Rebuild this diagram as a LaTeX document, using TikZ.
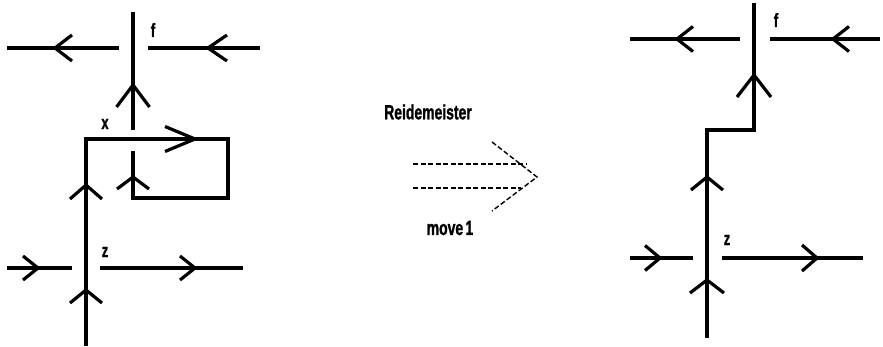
\documentclass[tikz,border=0pt]{standalone}
\usepackage{fontspec}
\usepackage{graphicx}
\newfontfamily\lblfont{Liberation Sans}[BoldFeatures={FakeBold=1.5}]
% narrow bold lettering
\newcommand\narrowtext[1]{\scalebox{0.68}[1]{#1}}
\tikzset{
  strand/.style={line width=3.2pt, line cap=butt, line join=miter},
  dashline/.style={line width=1.4pt, dash pattern=on 5pt off 2.5pt},
  lbl/.style={font=\lblfont\bfseries\fontsize{19}{19}\selectfont, inner sep=0pt},
  biglbl/.style={font=\lblfont\bfseries\fontsize{20.5}{20.5}\selectfont, inner sep=0pt},
  % open chevron pointing along +x, tip at the origin: length/half-width
  pics/chev/.style args={#1/#2}{code={\draw[strand, line join=round] (-#1,#2) -- (0,0) -- (-#1,-#2);}},
}
\begin{document}
\begin{tikzpicture}[x=1pt, y=1pt]
\useasboundingbox (0,0) rectangle (883,346);

% ---------------- left tangle ----------------
\coordinate (Lftop) at (133,334);
\coordinate (Lfbot) at (133,216);
\coordinate (LaW)  at (7,298);   \coordinate (LaE) at (119,298);
\coordinate (LbW)  at (148,298); \coordinate (LbE) at (260,298);
\coordinate (Lbase) at (86,0);
\coordinate (Lcorner) at (86,207);
\coordinate (LboxNE) at (228,207);
\coordinate (LboxSE) at (228,148);
\coordinate (LboxSW) at (133,148);
\coordinate (Linner) at (133,195);
\coordinate (LzaW) at (7,78);    \coordinate (LzaE) at (72,78);
\coordinate (LzbW) at (100,78);  \coordinate (LzbE) at (243,78);

\draw[strand] (Lftop) -- (Lfbot);
\draw[strand] (LaW) -- (LaE);
\draw[strand] (LbW) -- (LbE);
\draw[strand] (Lbase) -- (Lcorner) -- (LboxNE) -- (LboxSE) -- (LboxSW) -- (Linner);
\draw[strand] (LzaW) -- (LzaE);
\draw[strand] (LzbW) -- (LzbE);

\pic[rotate=180] at (55,298) {chev=17/13};
\pic[rotate=180] at (208,298) {chev=19/13};
\pic[rotate=90] at (133,261) {chev=22/16.5};
\pic at (195,207) {chev=30/12.5};
\pic[rotate=90] at (133,169) {chev=12/16};
\pic[rotate=90] at (86,161) {chev=14/16};
\pic[rotate=90] at (86,56) {chev=13/16};
\pic at (38,78) {chev=15/12};
\pic at (195,78) {chev=15/12};

\node[lbl] (Lf) at (153,316) {\narrowtext{f}};
\node[lbl] (Lx) at (105,222) {\narrowtext{x}};
\node[lbl] (Lz) at (105,94) {\narrowtext{z}};

% ---------------- move arrow ----------------
\node[biglbl] (mvname) at (428,234) {\narrowtext{Reidemeister}};
\node[biglbl] (mvnum) at (450,118) {\narrowtext{move\,1}};
\coordinate (DaW) at (413,182); \coordinate (DaE) at (527,182);
\coordinate (DbW) at (413,158); \coordinate (DbE) at (521,158);
\coordinate (HdA) at (492,204); \coordinate (HdT) at (537,169); \coordinate (HdB) at (492,135);
\draw[dashline] (DaW) -- (DaE);
\draw[dashline] (DbW) -- (DbE);
\draw[dashline] (HdA) -- (HdT) -- (HdB);

% ---------------- right tangle ----------------
\coordinate (Rtop) at (754,343);
\coordinate (Rstep) at (754,216);
\coordinate (Rstep2) at (707,216);
\coordinate (Rbase) at (707,8);
\coordinate (RaW) at (630,307); \coordinate (RaE) at (740,307);
\coordinate (RbW) at (770,307); \coordinate (RbE) at (880,307);
\coordinate (RzaW) at (630,88);  \coordinate (RzaE) at (693,88);
\coordinate (RzbW) at (722,88);  \coordinate (RzbE) at (863,88);

\draw[strand] (Rtop) -- (Rstep) -- (Rstep2) -- (Rbase);
\draw[strand] (RaW) -- (RaE);
\draw[strand] (RbW) -- (RbE);
\draw[strand] (RzaW) -- (RzaE);
\draw[strand] (RzbW) -- (RzbE);

\pic[rotate=90] at (754,271) {chev=22/17};
\pic[rotate=180] at (677,307) {chev=16/12.5};
\pic[rotate=180] at (833,307) {chev=16/12.5};
\pic[rotate=90] at (707,169) {chev=13/16};
\pic[rotate=90] at (707,66) {chev=13/17};
\pic at (660,88) {chev=15/12.5};
\pic at (817,88) {chev=15/13};

\node[lbl] (Rf) at (776,326) {\narrowtext{f}};
\node[lbl] (Rz) at (727,106) {\narrowtext{z}};
\end{tikzpicture}
\end{document}
